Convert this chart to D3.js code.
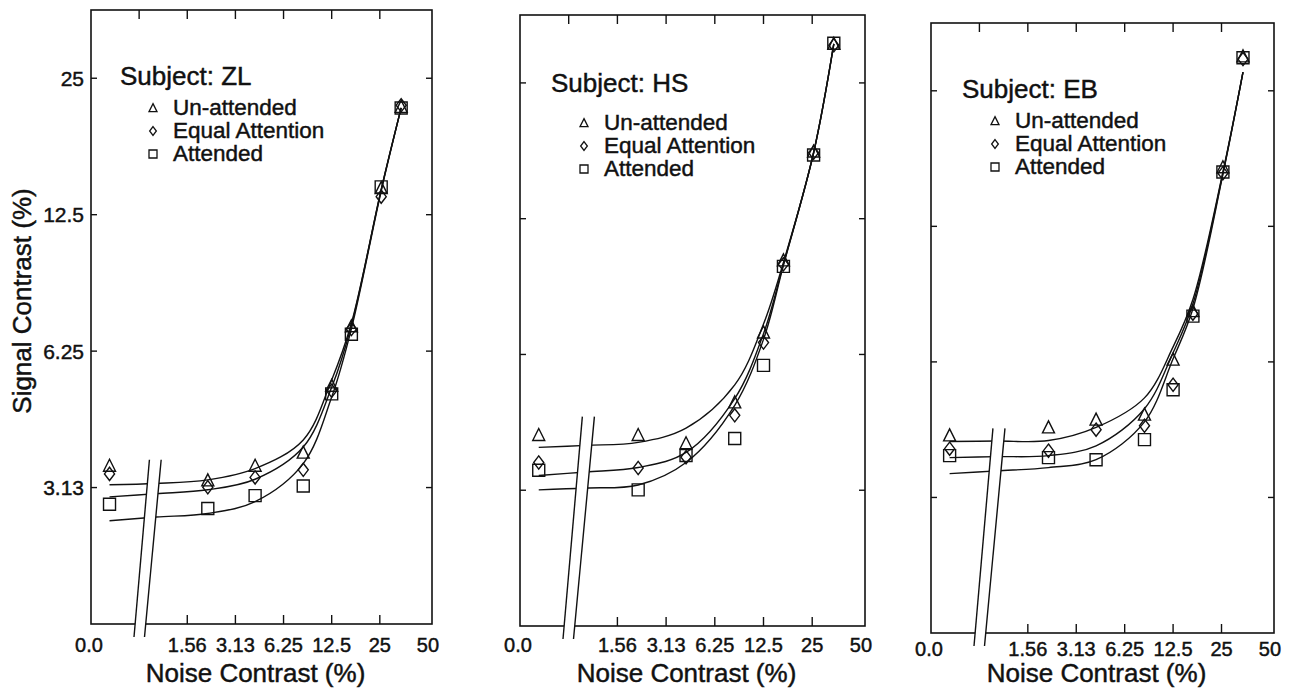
<!DOCTYPE html>
<html>
<head>
<meta charset="utf-8">
<script src="https://cdn.jsdelivr.net/npm/d3@7"></script>
<style>
  body { margin: 0; background: #fff; }
  svg { display: block; }
  text { font-family: "Liberation Sans", Arial, Helvetica, sans-serif; fill: #111; stroke: #111; stroke-width: 0.45px; }
</style>
</head>
<body>
<svg id="chart" width="1297" height="692"></svg>
<script>
// noise contrast (%) of the measured points, 0 = no external noise
const noiseLevels = [0, 2.1, 4.15, 8.3, 12.5, 16.6, 25.5, 34];
// noise contrast at which the fitted curves were read
const fitNoise = [0, 1, 2.1, 4.15, 8.3, 12.5, 16.6, 25.5, 34];

const conditions = ["Un-attended", "Equal Attention", "Attended"];
const symbolKinds = ["triangle", "diamond", "square"];

const xTickValues = [0.390625, 1.5625, 3.125, 6.25, 12.5, 25, 50];
const xTickLabels = ["0.0", "1.56", "3.13", "6.25", "12.5", "25", "50"];
const xTopTicks = [0.78125, 1.5625, 3.125, 6.25, 12.5, 25];
const xBottomTicks = [1.5625, 3.125, 6.25, 12.5, 25];
const yTickValues = [3.125, 6.25, 12.5, 25];
const yTickLabels = ["3.13", "6.25", "12.5", "25"];

// signal contrast thresholds (%) - subject ZL
const zlUnattended = [3.49, 3.24, 3.49, 3.73, 5.24, 7.09, 14.3, 21.6];
const zlEqual      = [3.35, 3.13, 3.29, 3.42, 5.11, 6.99, 13.7, 21.8];
const zlAttended   = [2.87, 2.81, 3.00, 3.15, 5.03, 6.81, 14.4, 21.5];
const zlFitUn = [3.17, 3.19, 3.25, 3.44, 3.98, 5.40, 7.20, 14.2, 21.5];
const zlFitEq = [2.98, 3.03, 3.09, 3.26, 3.84, 5.20, 7.12, 14.2, 21.5];
const zlFitAt = [2.64, 2.69, 2.74, 2.91, 3.53, 4.95, 7.00, 14.1, 21.5];

// subject HS
const hsUnattended = [4.14, 4.14, 3.97, 4.89, 6.99, 10.1, 17.6, 30.5];
const hsEqual      = [3.60, 3.50, 3.70, 4.58, 6.64, 9.9, 17.5, 30.3];
const hsAttended   = [3.46, 3.13, 3.73, 4.07, 5.91, 9.8, 17.3, 30.6];
const hsFitUn = [3.89, 3.93, 3.99, 4.29, 5.35, 7.30, 10.0, 17.5, 30.5];
const hsFitEq = [3.37, 3.43, 3.51, 3.79, 4.99, 6.95, 9.9, 17.5, 30.5];
const hsFitAt = [3.13, 3.16, 3.21, 3.60, 4.82, 6.75, 9.85, 17.5, 30.5];

// subject EB
const ebUnattended = [4.29, 4.47, 4.65, 4.77, 6.32, 8.1, 16.9, 29.8];
const ebEqual      = [4.01, 3.97, 4.42, 4.51, 5.56, 8.0, 16.4, 29.4];
const ebAttended   = [3.87, 3.83, 3.79, 4.20, 5.42, 7.9, 16.5, 29.6];
const ebFitUn = [4.16, 4.17, 4.18, 4.47, 5.20, 6.75, 8.6, 16.5, 27.5];
const ebFitEq = [3.83, 3.85, 3.87, 4.07, 4.92, 6.55, 8.4, 16.4, 27.5];
const ebFitAt = [3.53, 3.58, 3.64, 3.79, 4.60, 6.35, 8.2, 16.3, 27.5];

const panels = [
  { subject: "ZL", left: 91, top: 10, right: 432, bottom: 624, breakTop: 3.6, tickLabelY: 652,
    legend: { dx: 29, titleDy: 75, itemDy: 105 }, yLabels: true,
    points: [zlUnattended, zlEqual, zlAttended], fits: [zlFitUn, zlFitEq, zlFitAt] },
  { subject: "HS", left: 520, top: 15, right: 865, bottom: 626, breakTop: 4.55, tickLabelY: 652,
    legend: { dx: 31, titleDy: 77, itemDy: 115 }, yLabels: false,
    points: [hsUnattended, hsEqual, hsAttended], fits: [hsFitUn, hsFitEq, hsFitAt] },
  { subject: "EB", left: 931, top: 23, right: 1274, bottom: 633, breakTop: 4.45, tickLabelY: 656,
    legend: { dx: 31, titleDy: 75, itemDy: 105 }, yLabels: false,
    points: [ebUnattended, ebEqual, ebAttended], fits: [ebFitUn, ebFitEq, ebFitAt] },
];

const ink = "#111";
const svg = d3.select("#chart");

function symbolPath(kind, s) {
  if (kind === "triangle") {
    return `M0,${-0.55 * s}L${0.5 * s},${0.45 * s}L${-0.5 * s},${0.45 * s}Z`;
  }
  if (kind === "diamond") {
    return `M0,${-0.55 * s}L${0.42 * s},0L0,${0.55 * s}L${-0.42 * s},0Z`;
  }
  const h = s / 2;
  return `M${-h},${-h}H${h}V${h}H${-h}Z`;
}

panels.forEach((p) => {
  const g = svg.append("g").attr("class", "panel-" + p.subject);

  const x = d3.scaleLog().base(2).domain([0.390625, 53]).range([p.left, p.right]);
  const y = d3.scaleLog().base(2).domain([1.5625, 35.36]).range([p.bottom, p.top]);
  // zero noise is drawn just right of the axis origin, left of the break
  const xPos = (v) => (v === 0 ? x(0.51) : x(v));

  // ticks (inward)
  g.append("g").selectAll("line").data(xTopTicks).join("line")
    .attr("x1", d => x(d)).attr("x2", d => x(d))
    .attr("y1", p.top).attr("y2", p.top + 9)
    .attr("stroke", ink).attr("stroke-width", 1.4);
  g.append("g").selectAll("line").data(xBottomTicks).join("line")
    .attr("x1", d => x(d)).attr("x2", d => x(d))
    .attr("y1", p.bottom).attr("y2", p.bottom - 9)
    .attr("stroke", ink).attr("stroke-width", 1.4);
  [p.left, p.right].forEach((edge, i) => {
    g.append("g").selectAll("line").data(yTickValues).join("line")
      .attr("x1", edge).attr("x2", edge + (i === 0 ? 6 : -6))
      .attr("y1", d => y(d)).attr("y2", d => y(d))
      .attr("stroke", ink).attr("stroke-width", 1.4);
  });

  // fitted curves
  const line = d3.line()
    .x(d => xPos(d[0]))
    .y(d => y(d[1]))
    .curve(d3.curveCatmullRom.alpha(0.5));
  g.append("g").selectAll("path").data(p.fits).join("path")
    .attr("d", vals => line(fitNoise.map((n, i) => [n, vals[i]])))
    .attr("fill", "none")
    .attr("stroke", ink)
    .attr("stroke-width", 1.4);

  // frame
  g.append("rect")
    .attr("x", p.left).attr("y", p.top)
    .attr("width", p.right - p.left).attr("height", p.bottom - p.top)
    .attr("fill", "none").attr("stroke", ink).attr("stroke-width", 1.6);

  // axis break
  const yLow = p.bottom + 13, yHigh = y(p.breakTop);
  const ax = (yy) => p.left + 43 + 0.087 * (yLow - yy);
  const bx = (yy) => p.left + 53.5 + 0.094 * (yLow - yy);
  g.append("path")
    .attr("d", `M${ax(yLow)},${yLow}L${ax(yHigh)},${yHigh}L${bx(yHigh)},${yHigh}L${bx(yLow)},${yLow}Z`)
    .attr("fill", "#fff").attr("stroke", "none");
  [ax, bx].forEach(f => {
    g.append("line")
      .attr("x1", f(yLow)).attr("y1", yLow)
      .attr("x2", f(yHigh)).attr("y2", yHigh)
      .attr("stroke", ink).attr("stroke-width", 1.4);
  });

  // data points
  p.points.forEach((vals, ci) => {
    g.append("g").selectAll("path").data(vals).join("path")
      .attr("transform", (d, i) => `translate(${xPos(noiseLevels[i])},${y(d)})`)
      .attr("d", symbolPath(symbolKinds[ci], 12))
      .attr("fill", "none").attr("stroke", ink).attr("stroke-width", 1.4);
  });

  // x tick labels
  g.append("g").selectAll("text").data(xTickValues).join("text")
    .attr("x", (d, i) => (i === 0 ? x(d) - 2 : x(d)))
    .attr("y", p.tickLabelY)
    .attr("text-anchor", "middle")
    .attr("font-size", 20)
    .text((d, i) => xTickLabels[i]);

  if (p.yLabels) {
    g.append("g").selectAll("text").data(yTickValues).join("text")
      .attr("x", p.left - 7)
      .attr("y", d => y(d))
      .attr("dy", "0.36em")
      .attr("text-anchor", "end")
      .attr("font-size", 21)
      .text((d, i) => yTickLabels[i]);
    g.append("text")
      .attr("transform", `translate(31,${(p.top + p.bottom) / 2 - 16}) rotate(-90)`)
      .attr("text-anchor", "middle")
      .attr("font-size", 26)
      .text("Signal Contrast (%)");
  }

  g.append("text")
    .attr("x", (p.left + p.right) / 2 - 6)
    .attr("y", 682)
    .attr("text-anchor", "middle")
    .attr("font-size", 26)
    .text("Noise Contrast (%)");

  // legend
  const lg = g.append("g");
  lg.append("text")
    .attr("x", p.left + p.legend.dx)
    .attr("y", p.top + p.legend.titleDy)
    .attr("font-size", 26)
    .text("Subject: " + p.subject);
  conditions.forEach((c, i) => {
    const by = p.top + p.legend.itemDy + i * 23;
    lg.append("path")
      .attr("transform", `translate(${p.left + p.legend.dx + 33},${by - 7})`)
      .attr("d", symbolPath(symbolKinds[i], 8))
      .attr("fill", "none").attr("stroke", ink).attr("stroke-width", 1.3);
    lg.append("text")
      .attr("x", p.left + p.legend.dx + 53)
      .attr("y", by)
      .attr("font-size", 22.5)
      .text(c);
  });
});
</script>
</body>
</html>
